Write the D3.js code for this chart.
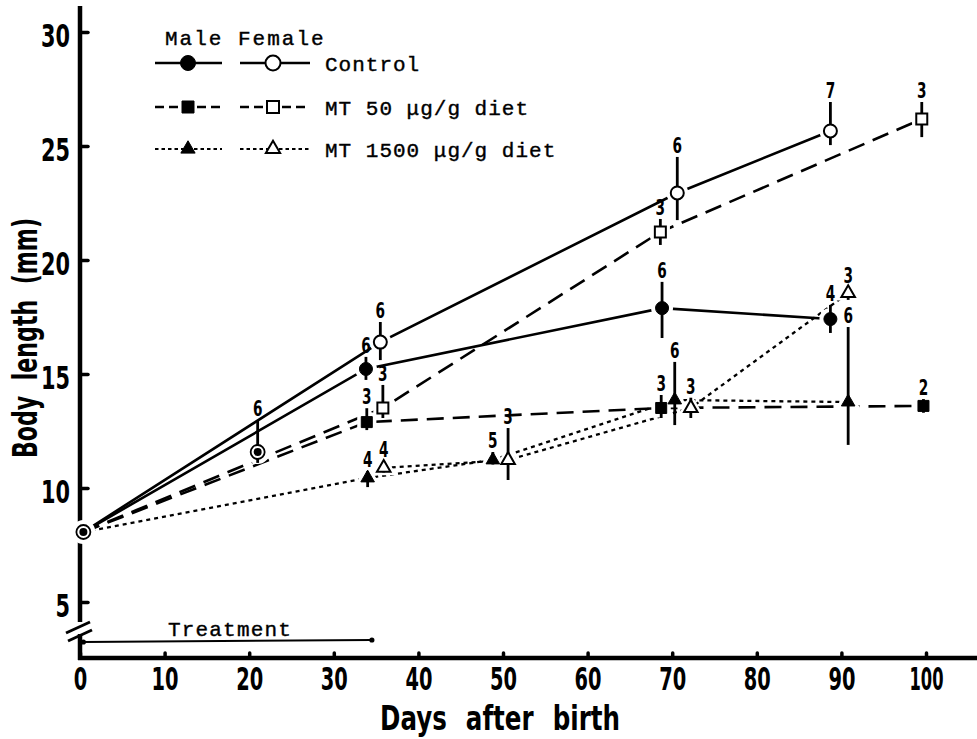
<!DOCTYPE html>
<html>
<head>
<meta charset="utf-8">
<script src="https://cdn.jsdelivr.net/npm/d3@7"></script>
<style>
  body { margin: 0; background: #fff; }
  svg { display: block; }
</style>
</head>
<body>
<script>
// body length of fry, male vs female, three diets
// rows: [day, mean mm, sd up, sd down, n]

const startPoint = [0.4, 8.07];
const day21Point = [21, 11.58, 1.40, 0.48, 6];

const controlMale = [[33.8, 15.22, 0.53, 0.48, 6], [68.8, 17.89, 1.15, 1.31, 6], [88.7, 17.41, 0.62, 0.61, 4]];
const controlFemale = [[35.5, 16.40, 0.88, 0.79, 6], [70.6, 22.94, 1.58, 1.19, 6], [88.7, 25.66, 1.27, 0.62, 7]];
const mt50Male = [[33.9, 12.89, 0.61, 0.35, 3], [68.7, 13.51, 0.57, 0.44, 3], [99.7, 13.60, 0.30, 0.30, 2]];
const mt50Female = [[35.8, 13.51, 1.01, 0.44, 3], [68.6, 21.23, 0.57, 0.57, 3], [99.5, 26.18, 0.75, 0.79, 3]];
const mt1500Male = [[34.0, 10.44, 0.30, 0.40, 4], [48.8, 11.23, 0.35, 0.20, 5], [70.3, 13.86, 1.67, 1.10, 6], [90.8, 13.77, 3.29, 1.88, 6]];
const mt1500Female = [[35.9, 10.88, 0.30, 0.20, 4], [50.6, 11.23, 1.40, 0.88, 3], [72.2, 13.51, 0.45, 0.44, 3], [90.8, 18.55, 0.27, 0.30, 3]];

const xTicks = [0, 10, 20, 30, 40, 50, 60, 70, 80, 90, 100];
const yTicks = [5, 10, 15, 20, 25, 30];
const treatment = [0.4, 34.5];
const legendNames = ['Control', 'MT 50 \u03bcg/g diet', 'MT 1500 \u03bcg/g diet'];

// no narrow font installed, so glyphs get squeezed with textLength
const numFont = '"DejaVu Sans", sans-serif';
const monoFont = '"Liberation Mono", "Courier New", "DejaVu Sans Mono", monospace';

const series = [
  {rows: controlMale, fromStart: true, shape: d3.symbolCircle, filled: true, dash: null},
  {rows: controlFemale, fromStart: true, shape: d3.symbolCircle, filled: false, dash: null},
  {rows: mt50Male, fromStart: true, shape: d3.symbolSquare, filled: true, dash: '17,9'},
  {rows: mt50Female, fromStart: true, shape: d3.symbolSquare, filled: false, dash: '17,9'},
  {rows: mt1500Male, fromStart: true, shape: d3.symbolTriangle, filled: true, dash: '4,4'},
  {rows: mt1500Female, fromStart: false, shape: d3.symbolTriangle, filled: false, dash: '4,4'}
];
const shapeSize = new Map([[d3.symbolCircle, 133], [d3.symbolSquare, 121], [d3.symbolTriangle, 80]]);

const svg = d3.select('body').append('svg')
  .attr('width', 977).attr('height', 739);

const x = d3.scaleLinear().domain([0, 100]).range([80, 926]);
const y = d3.scaleLinear().domain([5, 30]).range([602, 32]);
const axisY = 658;

function squeeze(sel, w) {
  sel.attr('textLength', w).attr('lengthAdjust', 'spacingAndGlyphs');
}

// axes
const yAx = svg.append('g').attr('transform', 'translate(80,0)')
  .call(d3.axisLeft(y).tickValues(yTicks).tickSizeInner(-8).tickSizeOuter(0).tickPadding(10));
const xAx = svg.append('g').attr('transform', `translate(0,${axisY})`)
  .call(d3.axisBottom(x).tickValues(xTicks).tickSizeInner(-5).tickSizeOuter(0).tickPadding(9));
[yAx, xAx].forEach(g => {
  g.select('.domain').remove();
  g.selectAll('line').attr('stroke', '#000').attr('stroke-width', 3.5).attr('stroke-linecap', 'round');
  g.selectAll('text').attr('font-family', numFont).attr('font-weight', 'bold')
    .attr('font-size', 32).attr('fill', '#000');
});
yAx.selectAll('text').attr('dy', '0.45em')
  .each(function(d) { squeeze(d3.select(this), String(d).length * 14.5); });
xAx.selectAll('text')
  .each(function(d) { const n = String(d).length; squeeze(d3.select(this), n === 3 ? 34 : n * 13.5); });

const axG = svg.append('g').attr('stroke', '#000').attr('stroke-width', 4.5).attr('fill', 'none');
axG.append('line').attr('x1', 80).attr('x2', 80).attr('y1', 6).attr('y2', 622);
axG.append('line').attr('x1', 80).attr('x2', 80).attr('y1', 634).attr('y2', axisY + 2);
axG.append('line').attr('x1', 78).attr('x2', 977).attr('y1', axisY).attr('y2', axisY);
axG.append('line').attr('x1', 66).attr('y1', 633).attr('x2', 90).attr('y2', 622).attr('stroke-width', 3);
axG.append('line').attr('x1', 68).attr('y1', 641).attr('x2', 92).attr('y2', 630).attr('stroke-width', 3);

// titles
svg.append('text').attr('x', 500).attr('y', 730).attr('text-anchor', 'middle')
  .attr('font-family', numFont).attr('font-weight', 'bold').attr('font-size', 33)
  .attr('word-spacing', 14)
  .call(squeeze, 240)
  .text('Days after birth');
svg.append('text').attr('transform', 'translate(37,338) rotate(-90)').attr('text-anchor', 'middle')
  .attr('font-family', numFont).attr('font-weight', 'bold').attr('font-size', 34)
  .attr('word-spacing', 12)
  .call(squeeze, 240)
  .text('Body length (mm)');

// lines
const line = d3.line().x(d => x(d[0])).y(d => y(d[1]));
series.forEach(s => {
  const pts = s.fromStart ? [startPoint].concat(s.rows) : s.rows;
  svg.append('path').attr('d', line(pts))
    .attr('fill', 'none').attr('stroke', '#000')
    .attr('stroke-width', s.dash === '4,4' ? 2.3 : 2.6)
    .attr('stroke-dasharray', s.dash);
});

// white halos so lines stop short of the marks
const halo = svg.append('g').attr('fill', '#fff').attr('stroke', '#fff').attr('stroke-width', 4);
series.forEach(s => {
  halo.selectAll(null).data(s.rows).enter().append('path')
    .attr('transform', d => `translate(${x(d[0])},${y(d[1])})`)
    .attr('d', d3.symbol().type(s.shape).size(shapeSize.get(s.shape) * 1.9));
});
[startPoint, day21Point].forEach(p => {
  halo.append('circle').attr('cx', x(p[0])).attr('cy', y(p[1])).attr('r', 10);
});

// error bars
const allRows = series.flatMap(s => s.rows).concat([day21Point]);
svg.append('g').selectAll('line').data(allRows).enter().append('line')
  .attr('x1', d => x(d[0])).attr('x2', d => x(d[0]))
  .attr('y1', d => y(d[1] + d[2])).attr('y2', d => y(d[1] - d[3]))
  .attr('stroke', '#000').attr('stroke-width', 2.8);

// markers
series.forEach(s => {
  svg.append('g').selectAll('path').data(s.rows).enter().append('path')
    .attr('transform', d => `translate(${x(d[0])},${y(d[1])})`)
    .attr('d', d3.symbol().type(s.shape).size(shapeSize.get(s.shape)))
    .attr('fill', s.filled ? '#000' : '#fff')
    .attr('stroke', '#000').attr('stroke-width', s.filled ? 1 : 2);
});
[startPoint, day21Point].forEach(p => {
  svg.append('circle').attr('cx', x(p[0])).attr('cy', y(p[1])).attr('r', 7)
    .attr('fill', '#fff').attr('stroke', '#000').attr('stroke-width', 1.8);
  svg.append('circle').attr('cx', x(p[0])).attr('cy', y(p[1])).attr('r', 4).attr('fill', '#000');
});

// sample sizes
svg.append('g').selectAll('text').data(allRows).enter().append('text')
  .attr('x', d => x(d[0])).attr('y', d => y(d[1] + d[2]) - 11)
  .attr('text-anchor', 'middle').attr('dominant-baseline', 'central')
  .attr('font-family', numFont).attr('font-weight', 'bold').attr('font-size', 21)
  .call(squeeze, 9.5)
  .text(d => d[4]);

// treatment bar
const ty = 642;
svg.append('line').attr('x1', x(treatment[0])).attr('x2', x(treatment[1]))
  .attr('y1', ty).attr('y2', ty - 2).attr('stroke', '#000').attr('stroke-width', 2);
svg.selectAll(null).data(treatment).enter().append('circle')
  .attr('cx', d => x(d)).attr('cy', (d, i) => ty - 2 * i).attr('r', 2.6).attr('fill', '#000');
svg.append('text').attr('x', 230).attr('y', 636).attr('text-anchor', 'middle')
  .attr('font-family', monoFont).attr('font-size', 21).attr('letter-spacing', 1.2)
  .attr('stroke', '#000').attr('stroke-width', 0.4)
  .text('Treatment');

// legend
const leg = svg.append('g').attr('font-family', monoFont).attr('font-size', 21)
  .attr('stroke-width', 0.4);
leg.append('text').attr('x', 165).attr('y', 45).attr('letter-spacing', 2).attr('stroke', '#000')
  .text('Male Female');
const legDash = [null, '9,5', '3.5,3'];
const legShape = [d3.symbolCircle, d3.symbolSquare, d3.symbolTriangle];
const legSize = [177, 144, 88];
const legRowY = [63, 107, 149];
legendNames.forEach((name, i) => {
  const ry = legRowY[i];
  [[155, 222, 188, true], [240, 310, 273, false]].forEach(([a, b, m, filled]) => {
    leg.append('line').attr('x1', a).attr('x2', b).attr('y1', ry).attr('y2', ry)
      .attr('stroke', '#000').attr('stroke-width', i === 2 ? 2.2 : 2.6)
      .attr('stroke-dasharray', legDash[i]);
    leg.append('path').attr('transform', `translate(${m},${ry})`)
      .attr('d', d3.symbol().type(legShape[i]).size(legSize[i]))
      .attr('fill', filled ? '#000' : '#fff').attr('stroke', '#000').attr('stroke-width', filled ? 1 : 2);
  });
  leg.append('text').attr('x', 325).attr('y', ry + 8).attr('letter-spacing', 1).attr('stroke', '#000')
    .text(name);
});
</script>
</body>
</html>
